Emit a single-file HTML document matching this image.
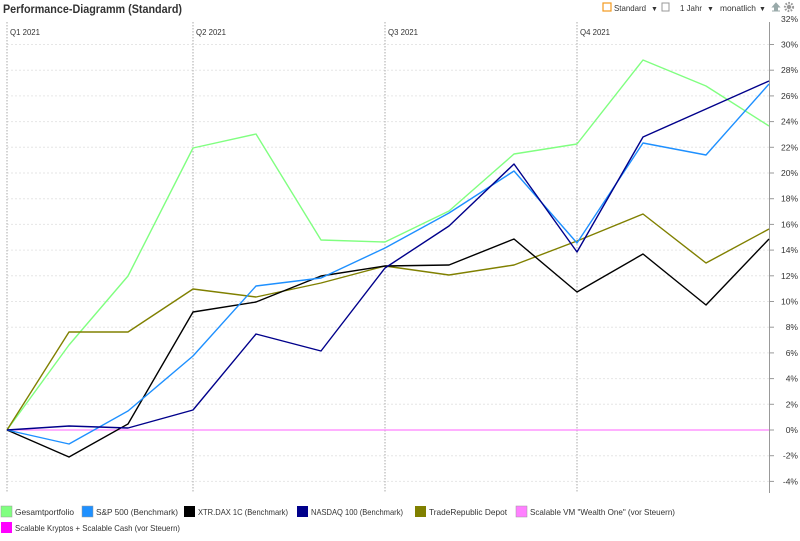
<!DOCTYPE html>
<html><head><meta charset="utf-8"><style>
html,body{margin:0;padding:0;background:#fff;width:800px;height:541px;overflow:hidden;font-family:"Liberation Sans",sans-serif}
svg{display:block}
</style></head><body>
<svg width="800" height="541" xmlns="http://www.w3.org/2000/svg" font-family="Liberation Sans, sans-serif">
<text x="3" y="13" font-size="12" font-weight="bold" fill="#333" textLength="179" lengthAdjust="spacingAndGlyphs">Performance-Diagramm (Standard)</text>
<rect x="603" y="3" width="8" height="8" fill="none" stroke="#f39a1e" stroke-width="1.2"/>
<text x="614" y="11" font-size="8.5" fill="#333" textLength="32" lengthAdjust="spacingAndGlyphs">Standard</text>
<text x="651" y="11" font-size="7" fill="#333">▼</text>
<rect x="662" y="3" width="7" height="8" fill="none" stroke="#999" stroke-width="1"/>
<text x="680" y="11" font-size="8.5" fill="#333" textLength="22" lengthAdjust="spacingAndGlyphs">1 Jahr</text>
<text x="707" y="11" font-size="7" fill="#333">▼</text>
<text x="720" y="11" font-size="8.5" fill="#333" textLength="36" lengthAdjust="spacingAndGlyphs">monatlich</text>
<text x="759" y="11" font-size="7" fill="#333">▼</text>
<path d="M772 11h8M776 3l-3.5 4h2v3h3v-3h2z" fill="#9aa" stroke="#9aa" stroke-width="1"/>
<circle cx="789" cy="7" r="4" fill="none" stroke="#999" stroke-width="2.2" stroke-dasharray="1.6 1.4"/>
<circle cx="789" cy="7" r="2.2" fill="#999"/>
<g stroke="#e6e6e6" stroke-width="1" stroke-dasharray="2 2">
<line x1="7" x2="769" y1="44.5" y2="44.5"/><line x1="7" x2="769" y1="70.2" y2="70.2"/><line x1="7" x2="769" y1="95.9" y2="95.9"/><line x1="7" x2="769" y1="121.6" y2="121.6"/><line x1="7" x2="769" y1="147.3" y2="147.3"/><line x1="7" x2="769" y1="173" y2="173"/><line x1="7" x2="769" y1="198.7" y2="198.7"/><line x1="7" x2="769" y1="224.4" y2="224.4"/><line x1="7" x2="769" y1="250.1" y2="250.1"/><line x1="7" x2="769" y1="275.8" y2="275.8"/><line x1="7" x2="769" y1="301.5" y2="301.5"/><line x1="7" x2="769" y1="327.2" y2="327.2"/><line x1="7" x2="769" y1="352.9" y2="352.9"/><line x1="7" x2="769" y1="378.6" y2="378.6"/><line x1="7" x2="769" y1="404.3" y2="404.3"/><line x1="7" x2="769" y1="455.7" y2="455.7"/><line x1="7" x2="769" y1="481.4" y2="481.4"/>
</g>
<g stroke="#aaa" stroke-width="1" stroke-dasharray="1.5 1.5">
<line x1="7" x2="7" y1="22" y2="493"/><line x1="193" x2="193" y1="22" y2="493"/><line x1="385" x2="385" y1="22" y2="493"/><line x1="577" x2="577" y1="22" y2="493"/>
</g>
<g font-size="8.5" fill="#333">
<text x="10" y="35" textLength="30" lengthAdjust="spacingAndGlyphs">Q1 2021</text><text x="196" y="35" textLength="30" lengthAdjust="spacingAndGlyphs">Q2 2021</text><text x="388" y="35" textLength="30" lengthAdjust="spacingAndGlyphs">Q3 2021</text><text x="580" y="35" textLength="30" lengthAdjust="spacingAndGlyphs">Q4 2021</text>
</g>
<line x1="769.5" x2="769.5" y1="22" y2="493" stroke="#999"/>
<g stroke="#999"><line x1="769" x2="774" y1="44.5" y2="44.5"/><line x1="769" x2="774" y1="70.2" y2="70.2"/><line x1="769" x2="774" y1="95.9" y2="95.9"/><line x1="769" x2="774" y1="121.6" y2="121.6"/><line x1="769" x2="774" y1="147.3" y2="147.3"/><line x1="769" x2="774" y1="173" y2="173"/><line x1="769" x2="774" y1="198.7" y2="198.7"/><line x1="769" x2="774" y1="224.4" y2="224.4"/><line x1="769" x2="774" y1="250.1" y2="250.1"/><line x1="769" x2="774" y1="275.8" y2="275.8"/><line x1="769" x2="774" y1="301.5" y2="301.5"/><line x1="769" x2="774" y1="327.2" y2="327.2"/><line x1="769" x2="774" y1="352.9" y2="352.9"/><line x1="769" x2="774" y1="378.6" y2="378.6"/><line x1="769" x2="774" y1="404.3" y2="404.3"/><line x1="769" x2="774" y1="430" y2="430"/><line x1="769" x2="774" y1="455.7" y2="455.7"/><line x1="769" x2="774" y1="481.4" y2="481.4"/></g>
<g font-size="8.5" fill="#333" text-anchor="end">
<text x="798" y="22">32%</text><text x="798" y="47.5">30%</text><text x="798" y="73.2">28%</text><text x="798" y="98.9">26%</text><text x="798" y="124.6">24%</text><text x="798" y="150.3">22%</text><text x="798" y="176">20%</text><text x="798" y="201.7">18%</text><text x="798" y="227.4">16%</text><text x="798" y="253.1">14%</text><text x="798" y="278.8">12%</text><text x="798" y="304.5">10%</text><text x="798" y="330.2">8%</text><text x="798" y="355.9">6%</text><text x="798" y="381.6">4%</text><text x="798" y="407.3">2%</text><text x="798" y="433">0%</text><text x="798" y="458.7">-2%</text><text x="798" y="484.4">-4%</text>
</g>
<g fill="none" stroke-width="1.4" stroke-linejoin="round">
<line x1="7" x2="769" y1="430" y2="430" stroke="#ff80ff" stroke-width="1.2"/>
<polyline stroke="#80ff80" points="7,430 69,345 128,276 193,148 256,134 321,240 385,242 449,211 514,154 577,144 643,60 706,86 769,126"/>
<polyline stroke="#808000" points="7,430 69,332 128,332 193,289 256,297 321,283 385,266 449,275 514,265 577,241 643,214 706,263 769,229"/>
<polyline stroke="#000000" points="7,430 69,457 128,424 193,312 256,302 321,276 385,266 449,265 514,239 577,292 643,254 706,305 769,239"/>
<polyline stroke="#1e90ff" points="7,430 69,444 128,411 193,356 256,286 321,278 385,248 449,213 514,171 577,243 643,143 706,155 769,84"/>
<polyline stroke="#00008b" points="7,430 69,426 128,428 193,410 256,334 321,351 385,268 449,226 514,164 577,252 643,137 706,109 769,81"/>
</g>
<g font-size="8.5" fill="#333" lengthAdjust="spacingAndGlyphs">
<rect x="1" y="506" width="11" height="11" fill="#80ff80" stroke="#999" stroke-width="0.5"/><text x="15" y="515" textLength="59" lengthAdjust="spacingAndGlyphs">Gesamtportfolio</text>
<rect x="82" y="506" width="11" height="11" fill="#1e90ff" stroke="#999" stroke-width="0.5"/><text x="96" y="515" textLength="82" lengthAdjust="spacingAndGlyphs">S&amp;P 500 (Benchmark)</text>
<rect x="184" y="506" width="11" height="11" fill="#000"/><text x="198" y="515" textLength="90" lengthAdjust="spacingAndGlyphs">XTR.DAX 1C (Benchmark)</text>
<rect x="297" y="506" width="11" height="11" fill="#00008b"/><text x="311" y="515" textLength="92" lengthAdjust="spacingAndGlyphs">NASDAQ 100 (Benchmark)</text>
<rect x="415" y="506" width="11" height="11" fill="#808000"/><text x="429" y="515" textLength="78" lengthAdjust="spacingAndGlyphs">TradeRepublic Depot</text>
<rect x="516" y="506" width="11" height="11" fill="#ff80ff" stroke="#999" stroke-width="0.5"/><text x="530" y="515" textLength="145" lengthAdjust="spacingAndGlyphs">Scalable VM "Wealth One" (vor Steuern)</text>
<rect x="1" y="522" width="11" height="11" fill="#ff00ff"/><text x="15" y="531" textLength="165" lengthAdjust="spacingAndGlyphs">Scalable Kryptos + Scalable Cash (vor Steuern)</text>
</g>
</svg>
</body></html>
